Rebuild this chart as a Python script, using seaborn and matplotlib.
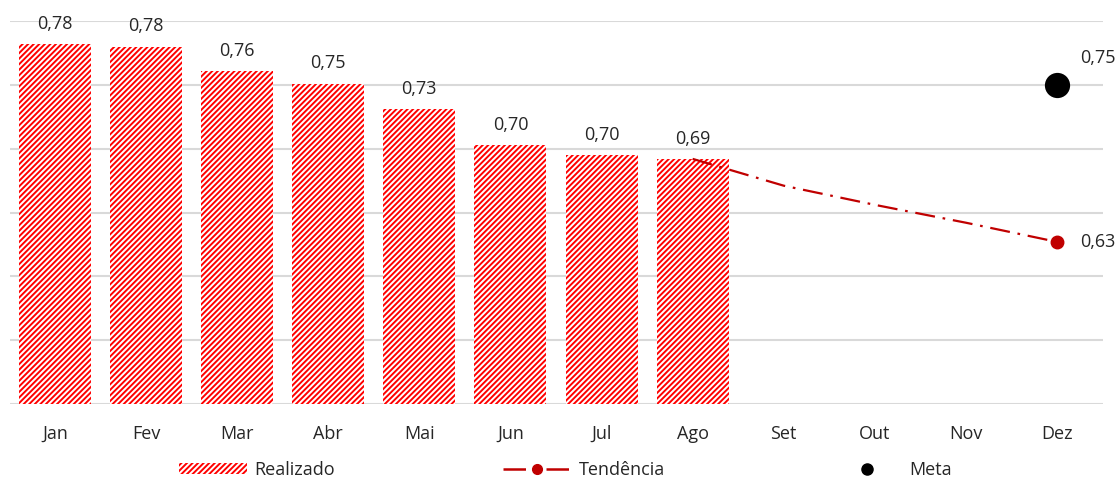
import matplotlib
matplotlib.use("Agg")
import matplotlib.pyplot as plt
import seaborn as sns
import pandas as pd
from matplotlib.patches import Patch
from matplotlib.lines import Line2D

months = ["Jan", "Fev", "Mar", "Abr", "Mai", "Jun", "Jul", "Ago", "Set", "Out", "Nov", "Dez"]
realizado = [0.782, 0.780, 0.761, 0.751, 0.731, 0.703, 0.695, 0.692]
trend_months = ["Ago", "Set", "Out", "Nov", "Dez"]
tendencia = [0.692, 0.671, 0.656, 0.642, 0.627]
meta_month = "Dez"
meta = 0.75
bar_labels = ["0,78", "0,78", "0,76", "0,75", "0,73", "0,70", "0,70", "0,69"]

sns.set_theme(style="white")
plt.rcParams["font.family"] = ["Open Sans", "DejaVu Sans"]
plt.rcParams["hatch.linewidth"] = 1.4

fig = plt.figure(figsize=(11.2, 4.78), dpi=100)
ax = fig.add_axes([9.5 / 1120, 74 / 478, 1093 / 1120, 383 / 478])

df = pd.DataFrame({"mes": months[:len(realizado)], "valor": realizado})
sns.barplot(data=df, x="mes", y="valor", order=months, color="white", saturation=1,
            width=0.79, hatch="//////", edgecolor="#ff0000", linewidth=0, ax=ax, zorder=2)

pos = {m: i for i, m in enumerate(months)}
tx = [pos[m] for m in trend_months]
sns.lineplot(x=tx, y=tendencia, color="#c00000", lw=1.6, dashes=False, ax=ax, zorder=3)
line = ax.get_lines()[-1]
line.set_dashes((9, 3.5, 1.2, 3.5))
ax.plot([tx[-1]], [tendencia[-1]], "o", color="#c00000", ms=9, zorder=4)

sns.scatterplot(x=[pos[meta_month]], y=[meta], color="black", s=330, ax=ax, zorder=4, linewidth=0)

fs = 13
for i, (v, lab) in enumerate(zip(realizado, bar_labels)):
    ax.annotate(lab, (i, v), xytext=(0, 8), textcoords="offset points",
                ha="center", va="bottom", fontsize=fs, color="#262626")
ax.annotate("0,63", (tx[-1], tendencia[-1]), xytext=(16.5, 0), textcoords="offset points",
            ha="left", va="center", fontsize=fs, color="#262626")
ax.annotate("0,75", (pos[meta_month], meta), xytext=(16.5, 19), textcoords="offset points",
            ha="left", va="center", fontsize=fs, color="#262626", annotation_clip=False)

ax.set_xlim(-0.5, 11.5)
ax.set_ylim(0.5, 0.8)
ax.set_yticks([0.5, 0.55, 0.6, 0.65, 0.7, 0.75, 0.8])
ax.yaxis.grid(True, color="#d9d9d9", lw=1.5, zorder=0)
ax.set_axisbelow(True)
ax.tick_params(axis="y", left=False, labelleft=False)
ax.tick_params(axis="x", bottom=False, labelsize=fs, labelcolor="#262626", pad=9)
ax.set_xlabel("")
ax.set_ylabel("")
for s in ax.spines.values():
    s.set_visible(False)

handles = [
    Patch(facecolor="white", edgecolor="#ff0000", hatch="//////", linewidth=0),
    Line2D([0], [0], color="#c00000", lw=1.8, marker="o", ms=7, dashes=(9, 3.5, 1.2, 3.5)),
    Line2D([0], [0], color="black", lw=0, marker="o", ms=8),
]
labels = ["Realizado", "Tendência", "Meta"]
leg = fig.legend(handles, labels, ncol=3, loc="center", bbox_to_anchor=(565 / 1120, 1 - 470 / 478),
                 frameon=False, fontsize=fs, handlelength=3.8, handleheight=0.6, handletextpad=0.4,
                 columnspacing=9.3)
for t in leg.get_texts():
    t.set_color("#262626")

fig.savefig("out.png", dpi=100)
